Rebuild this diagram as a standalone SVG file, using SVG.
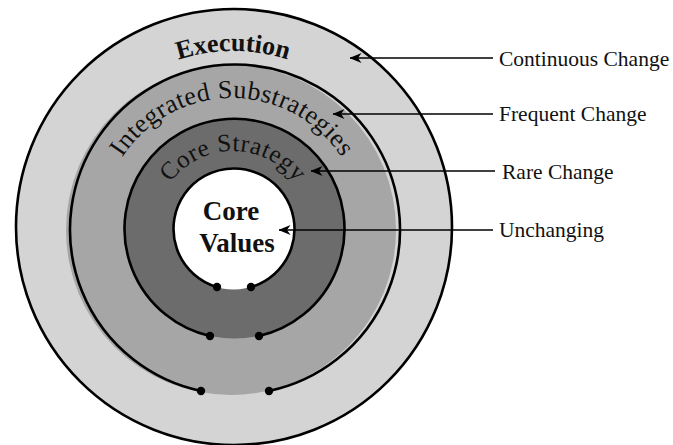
<svg xmlns="http://www.w3.org/2000/svg" width="673" height="445" viewBox="0 0 673 445">
  <style>
    .ring { stroke: #000; stroke-width: 2.6; fill: none; }
    .dot { fill: #000; }
    .lead { stroke: #000; stroke-width: 1.6; fill: none; marker-end: url(#barb); }
    .label { font-family: "Liberation Serif", "Times New Roman", serif; font-size: 21.5px; fill: #111; }
    .band { font-family: "Liberation Serif", "Times New Roman", serif; fill: #111; }
  </style>
  <defs>
    <marker id="barb" viewBox="0 0 12 10" refX="11.5" refY="5" markerWidth="12" markerHeight="10" markerUnits="userSpaceOnUse" orient="auto">
      <path d="M0,0 L12,5 L0,10 L3.5,5 Z" fill="#000"/>
    </marker>
    <!-- baselines for the curved band titles -->
    <path id="arcExec" d="M 55 229 A 178 178 0 0 1 411 229"/>
    <path id="arcSub" d="M 101 229 A 131 131 0 0 1 363 229"/>
    <path id="arcCore" d="M 155 229 A 78 78 0 0 1 311 229"/>
  </defs>

  <rect width="673" height="445" fill="#fff"/>

  <!-- Execution: outer band -->
  <g id="execution">
    <circle cx="234" cy="227" r="218" fill="#d4d4d4"/>
    <circle class="ring" cx="234" cy="227" r="218"/>
    <text class="band" font-size="26" font-weight="bold"><textPath href="#arcExec" startOffset="50%" text-anchor="middle">Execution</textPath></text>
  </g>

  <!-- Integrated Substrategies: second band -->
  <g id="substrategies">
    <circle cx="231" cy="230" r="165" fill="#a6a6a6"/>
    <path class="ring" d="M 201 391 A 165 165 0 1 1 269 391"/>
    <circle class="dot" cx="201" cy="391" r="4.2"/>
    <circle class="dot" cx="269" cy="391" r="4.2"/>
    <text class="band" font-size="26" letter-spacing="0.4"><textPath href="#arcSub" startOffset="50%" text-anchor="middle">Integrated Substrategies</textPath></text>
  </g>

  <!-- Core Strategy: third band -->
  <g id="core-strategy">
    <circle cx="234.5" cy="228.5" r="110" fill="#6c6c6c"/>
    <path class="ring" d="M 210 336 A 110 110 0 1 1 259 336"/>
    <circle class="dot" cx="210" cy="336" r="4.2"/>
    <circle class="dot" cx="259" cy="336" r="4.2"/>
    <text class="band" font-size="25" letter-spacing="0.6"><textPath href="#arcCore" startOffset="50%" text-anchor="middle">Core Strategy</textPath></text>
  </g>

  <!-- Core Values: centre disc -->
  <g id="core-values">
    <circle cx="234" cy="229" r="60.5" fill="#fff"/>
    <path class="ring" d="M 217 287 A 60.5 60.5 0 1 1 251 287"/>
    <circle class="dot" cx="217" cy="287" r="4.2"/>
    <circle class="dot" cx="251" cy="287" r="4.2"/>
    <text class="band" font-size="27" font-weight="bold" text-anchor="middle"><tspan x="231" y="220">Core</tspan><tspan x="237" y="252">Values</tspan></text>
  </g>

  <!-- leader lines from the rate-of-change labels -->
  <g id="connectors">
    <path class="lead" d="M 493 58 L 350 58"/>
    <path class="lead" d="M 493 114 L 333 114"/>
    <path class="lead" d="M 495 171 L 311 171"/>
    <path class="lead" d="M 493 230 L 279 230"/>
  </g>

  <g id="labels">
    <text class="label" x="499" y="66">Continuous Change</text>
    <text class="label" x="499" y="121">Frequent Change</text>
    <text class="label" x="502" y="179">Rare Change</text>
    <text class="label" x="499" y="237">Unchanging</text>
  </g>
</svg>
